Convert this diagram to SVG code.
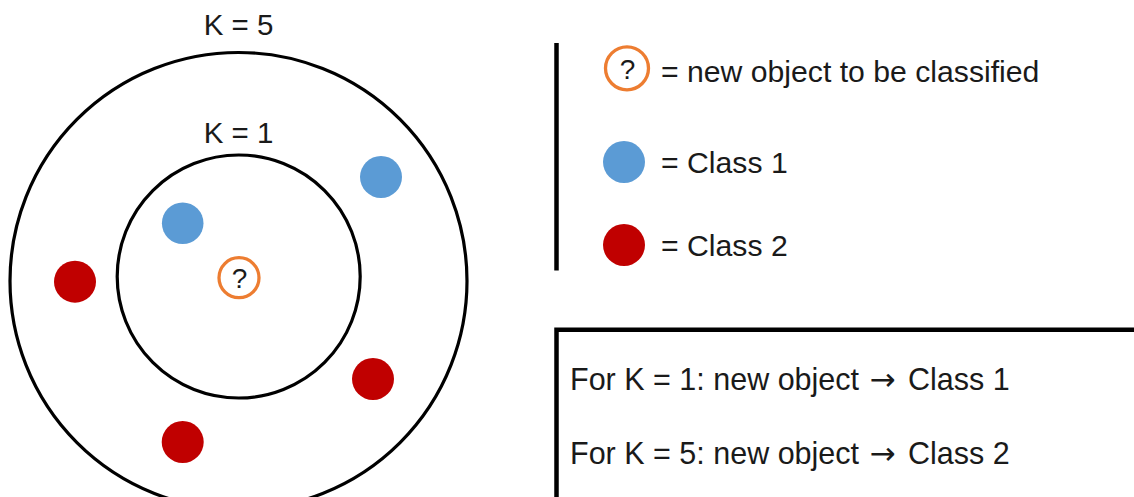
<svg xmlns="http://www.w3.org/2000/svg" width="1134" height="497" viewBox="0 0 1134 497">
<style>
.ring{fill:none;stroke:#000;stroke-width:3.2}
.q{fill:#fff;stroke:#ED7D31;stroke-width:3.3}
.c1{fill:#5B9BD5}
.c2{fill:#C00000}
text{font-family:"Liberation Sans",Arial,sans-serif;fill:#1a1a1a}
.k{font-size:29.5px;text-anchor:middle}
.t{font-size:30.2px}
.b{font-size:30.5px}
.qm{font-size:28px;text-anchor:middle}
.arr{font-family:"DejaVu Sans",sans-serif;font-size:31px}
.ln{stroke:#000;stroke-width:4.5;fill:none}
</style>
<rect width="1134" height="497" fill="#fff"/>
<g id="outer-circle">
<circle class="ring" cx="238.5" cy="281" r="228.5"/>
<text class="k" x="238.5" y="34.5">K = 5</text>
</g>
<g id="inner-circle">
<circle class="ring" cx="238.7" cy="276.5" r="121.5"/>
<text class="k" x="238.5" y="143.3">K = 1</text>
</g>
<g id="new-object">
<circle class="q" cx="239" cy="277.7" r="20"/>
<text class="qm" x="239.5" y="287.5">?</text>
</g>
<g id="blue-inner"><circle class="c1" cx="182.7" cy="223.3" r="20.8"/></g>
<g id="blue-outer"><circle class="c1" cx="381" cy="177" r="21"/></g>
<g id="red-left"><circle class="c2" cx="75" cy="281.7" r="21"/></g>
<g id="red-right"><circle class="c2" cx="373" cy="379" r="21"/></g>
<g id="red-bottom"><circle class="c2" cx="182.7" cy="442" r="21"/></g>
<g id="legend">
<line class="ln" x1="556.5" y1="43" x2="556.5" y2="270.5"/>
<circle class="q" cx="627" cy="68.3" r="21.5"/>
<text class="qm" x="627.5" y="78.5">?</text>
<text class="t" x="661" y="81.7">= new object to be classified</text>
<circle class="c1" cx="624" cy="162" r="21"/>
<text class="t" x="661" y="172.7">= Class 1</text>
<circle class="c2" cx="624" cy="245" r="21"/>
<text class="t" x="661" y="255.7">= Class 2</text>
</g>
<g id="result-box">
<path class="ln" d="M556.5 500 V329.8 H1140"/>
<text class="b" x="570" y="389.5">For K = 1: new object <tspan class="arr" dx="2">→</tspan><tspan dx="4"> Class 1</tspan></text>
<text class="b" x="570" y="463.5">For K = 5: new object <tspan class="arr" dx="2">→</tspan><tspan dx="4"> Class 2</tspan></text>
</g>
</svg>
